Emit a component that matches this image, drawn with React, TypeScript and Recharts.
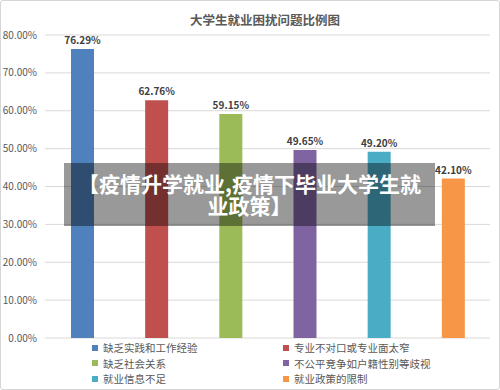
import * as React from "react"
import { BarChart, Bar, XAxis, YAxis, CartesianGrid, Cell, LabelList } from "recharts"

const categories = [
  "缺乏实践和工作经验",
  "专业不对口或专业面太窄",
  "缺乏社会关系",
  "不公平竞争如户籍性别等歧视",
  "就业信息不足",
  "就业政策的限制",
]
const values = [76.29, 62.76, 59.15, 49.65, 49.2, 42.1]
const colors = ["#4F81BD", "#C0504D", "#9BBB59", "#8064A2", "#4BACC6", "#F79646"]
const yTicks = [0, 10, 20, 30, 40, 50, 60, 70, 80]

const chartTitle = "大学生就业困扰问题比例图"
const bannerText = "【疫情升学就业,疫情下毕业大学生就业政策】"

const data = categories.map((name, i) => ({ name, value: values[i] }))

const FONT = '"Noto Sans CJK SC", "Noto Sans", sans-serif'

// Excel-style two column legend, sits under the plot
function ChartLegend() {
  return (
    <div
      style={{
        position: "absolute",
        left: 92,
        top: 341,
        display: "grid",
        gridTemplateColumns: "191px 190px",
        rowGap: 2,
        fontSize: 10.5,
        lineHeight: "13.5px",
        color: "#595959",
        fontFamily: FONT,
      }}
    >
      {categories.map((c, i) => (
        <div key={c} style={{ display: "flex", alignItems: "center", whiteSpace: "nowrap" }}>
          <span style={{ width: 6, height: 6, background: colors[i], marginRight: 5, display: "inline-block" }} />
          {c}
        </div>
      ))}
    </div>
  )
}

export default function App() {
  return (
    <div
      style={{
        position: "absolute",
        left: 0,
        top: 0,
        width: 500,
        height: 390,
        background: "#fff",
        fontFamily: FONT,
      }}
    >
      <div
        style={{
          position: "absolute",
          inset: 0,
          border: "1px solid #d6d6d6",
          borderRadius: 3,
          boxSizing: "border-box",
          pointerEvents: "none",
        }}
      />
      <BarChart width={500} height={390} data={data} margin={{ top: 35, right: 10, bottom: 52, left: 0 }}>
        <text x={265} y={22} textAnchor="middle" dominantBaseline="middle" fontSize={12.5} fontWeight="bold" fill="#595959" fontFamily={FONT}>
          {chartTitle}
        </text>
        <CartesianGrid vertical={false} stroke="#d9d9d9" />
        <XAxis dataKey="name" hide />
        <YAxis
          width={45}
          domain={[0, 80]}
          ticks={yTicks}
          tickFormatter={(v: number) => `${v.toFixed(2)}%`}
          axisLine={false}
          tickLine={false}
          tick={{ fontSize: 10, fill: "#595959", fontFamily: FONT }}
        />
        <Bar dataKey="value" barSize={23} isAnimationActive={false}>
          {data.map((d, i) => (
            <Cell key={d.name} fill={colors[i]} />
          ))}
          <LabelList
            dataKey="value"
            position="top"
            offset={5}
            formatter={(v: number) => `${v.toFixed(2)}%`}
            style={{ fontSize: 10, fontWeight: "bold", fill: "#404040", fontFamily: FONT }}
          />
        </Bar>
      </BarChart>
      <ChartLegend />
      <div
        style={{
          position: "absolute",
          left: 64,
          top: 163,
          width: 371,
          height: 63,
          background: "rgba(0,0,0,0.4)",
          color: "#fff",
          fontWeight: "bold",
          fontSize: 21,
          lineHeight: "22px",
          textAlign: "center",
          boxSizing: "border-box",
          padding: "9px 12px 0 12px",
          fontFamily: FONT,
        }}
      >
        {bannerText}
      </div>
    </div>
  )
}
